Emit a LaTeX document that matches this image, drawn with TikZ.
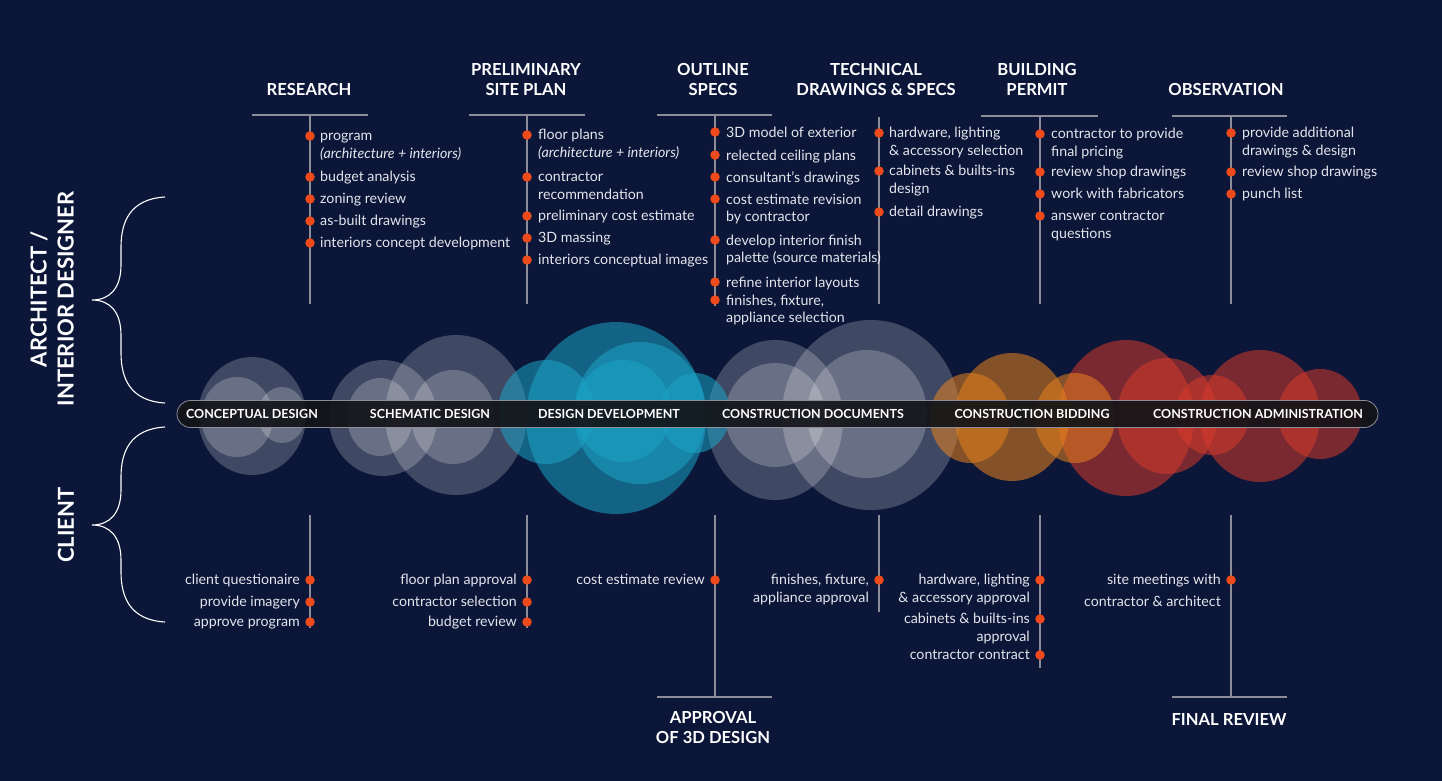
\documentclass[tikz,border=0pt]{standalone}
\usepackage{fontspec}
\setmainfont{Lato}
\usetikzlibrary{positioning}

\definecolor{navy}{HTML}{0B1638}
\definecolor{stemgrey}{HTML}{8C8D99}
\definecolor{dotorange}{HTML}{EE4A1B}
\definecolor{itemwhite}{HTML}{E4E5EC}
\definecolor{ddblue}{HTML}{1BA3C6}
\definecolor{cborange}{HTML}{E8821E}
\definecolor{cared}{HTML}{D63A2C}
\definecolor{barblack}{HTML}{131418}

\newcommand\tabL[1]{\begin{tabular}[t]{@{}l@{}}#1\end{tabular}}
\newcommand\tabR[1]{\begin{tabular}[t]{@{}r@{}}#1\end{tabular}}

\tikzset{
  stem/.style={stemgrey, line width=1.3pt},
  rule/.style={stemgrey, line width=2pt},
  brace/.style={white, line width=1.1pt},
  dot/.style={circle, fill=dotorange, inner sep=0pt, minimum size=9.5pt},
  item/.style={anchor=base west, inner sep=0pt, text=itemwhite, font=\fontsize{14.2}{17.5}\selectfont},
  itemr/.style={item, anchor=base east},
  head/.style={anchor=south, inner sep=0pt, align=center, text=white, font=\fontsize{16.6}{20.5}\selectfont\bfseries},
  side/.style={rotate=90, inner sep=0pt, align=center, text=white, font=\fontsize{22}{27}\selectfont\bfseries},
  phase/.style={text=white, inner sep=0pt, font=\fontsize{12.5}{14}\selectfont\bfseries},
  bar/.style={draw=stemgrey, line width=0.8pt, fill=barblack, fill opacity=0.92, rounded corners=13.5pt, minimum width=1201pt, minimum height=27pt},
  greyc/.style={fill=white, fill opacity=0.22},
  bluec/.style={fill=ddblue, fill opacity=0.55},
  orangec/.style={fill=cborange, fill opacity=0.55},
  redc/.style={fill=cared, fill opacity=0.55}
}

\begin{document}
\begin{tikzpicture}[x=1pt, y=-1pt]
\useasboundingbox (0,0) rectangle (1442,781);
\fill[navy] (0,0) rectangle (1442,781);

% phase bubbles
\foreach \cx/\cy/\rx/\ry in {252/416/54/59, 237/417/36/40, 282/415/24/28,
    383/418/54/58, 380/417/33/39, 456/415/71/80, 453/417/42/47,
    775/420/68/80, 775/415/50/52, 871/415/89/95, 867/414/60/64}
  \fill[greyc] (\cx,\cy) ellipse [x radius=\rx pt, y radius=\ry pt];
\foreach \cx/\cy/\rx/\ry in {546/412/48/52, 616/418/90/96, 640/413/66/71, 623/411/48/51, 695/413/35/40}
  \fill[bluec] (\cx,\cy) ellipse [x radius=\rx pt, y radius=\ry pt];
\foreach \cx/\cy/\rx/\ry in {1126/418/68/78, 1167/416/50/58, 1212/415/37/40, 1260/416/60/66, 1320/414/42/45}
  \fill[redc] (\cx,\cy) ellipse [x radius=\rx pt, y radius=\ry pt];
\foreach \cx/\cy/\rx/\ry in {970/418/40/45, 1012/417/57/64, 1075/418/40/45}
  \fill[orangec] (\cx,\cy) ellipse [x radius=\rx pt, y radius=\ry pt];

% timeline
\node[bar] (bar) at (777.5,414) {};
\node[phase] (p1) at (252,414) {CONCEPTUAL DESIGN};
\node[phase] (p2) at (430,414) {SCHEMATIC DESIGN};
\node[phase] (p3) at (609,414) {DESIGN DEVELOPMENT};
\node[phase] (p4) at (813,414) {CONSTRUCTION DOCUMENTS};
\node[phase] (p5) at (1032,414) {CONSTRUCTION BIDDING};
\node[phase] (p6) at (1258,414) {CONSTRUCTION ADMINISTRATION};

% side labels
\node[side] (arch) at (52,299) {ARCHITECT /\\INTERIOR DESIGNER};
\node[side] (client) at (66,525) {CLIENT};
\foreach \top/\mid/\bot in {197/300/403, 427/525/622}
  \draw[brace] (165,\top) .. controls (130,\top+2) and (121,\top+25) .. (121,\top+50)
    -- (121,\mid-35) .. controls (121,\mid-12) and (110,\mid) .. (92,\mid)
    .. controls (110,\mid) and (121,\mid+12) .. (121,\mid+35)
    -- (121,\bot-50) .. controls (121,\bot-25) and (130,\bot-2) .. (165,\bot);

% headings
\node[head] (h-res) at (309,96) {RESEARCH};
\node[head] (h-pre) at (526,96) {PRELIMINARY\\SITE PLAN};
\node[head] (h-out) at (713,96) {OUTLINE\\SPECS};
\node[head] (h-tec) at (876,96) {TECHNICAL\\DRAWINGS \& SPECS};
\node[head] (h-bld) at (1037,96) {BUILDING\\PERMIT};
\node[head] (h-obs) at (1226,96) {OBSERVATION};

\draw[rule] (252,115) -- (368,115);
\draw[rule] (469,115) -- (585,115);
\draw[rule] (657,115) -- (772,115);
\draw[rule] (981,116) -- (1098,116);
\draw[rule] (1172,116) -- (1287,116);

% architect stems
\coordinate (res-t) at (310,115); \coordinate (res-b) at (310,304);
\coordinate (pre-t) at (527,115); \coordinate (pre-b) at (527,304);
\coordinate (out-t) at (715,115); \coordinate (out-b) at (715,306);
\coordinate (tec-t) at (879,117); \coordinate (tec-b) at (879,304);
\coordinate (bld-t) at (1040,116); \coordinate (bld-b) at (1040,304);
\coordinate (obs-t) at (1231,116); \coordinate (obs-b) at (1231,304);
\foreach \s in {res, pre, out, tec, bld, obs}
  \draw[stem] (\s-t) -- (\s-b);

\foreach \y/\t [count=\i] in {136/{program\\\textit{(architecture + interiors)}}, 177/budget analysis,
    199/zoning review, 221/as-built drawings, 243/interiors concept development}{
  \node[dot] (res-\i) at (310,\y) {};
  \node[item] (res-\i-t) at (320,\y+4.5) {\tabL{\t}};
}
\foreach \y/\t [count=\i] in {135/{floor plans\\\textit{(architecture + interiors)}}, 177/{contractor\\recommendation},
    216/preliminary cost estimate, 238/3D massing, 260/interiors conceptual images}{
  \node[dot] (pre-\i) at (527,\y) {};
  \node[item] (pre-\i-t) at (538,\y+4.5) {\tabL{\t}};
}
\foreach \y/\t [count=\i] in {132/3D model of exterior, 155/relected ceiling plans, 177/consultant's drawings,
    199/{cost estimate revision\\by contractor}, 240/{develop interior finish\\palette (source materials)},
    282/refine interior layouts, 300/{finishes, fixture,\\appliance selection}}{
  \node[dot] (out-\i) at (715,\y) {};
  \node[item] (out-\i-t) at (726,\y+5) {\tabL{\t}};
}
\foreach \y/\t [count=\i] in {133/{hardware, lighting\\\& accessory selection}, 171/{cabinets \& builts-ins\\design},
    212/detail drawings}{
  \node[dot] (tec-\i) at (879,\y) {};
  \node[item] (tec-\i-t) at (889,\y+4.5) {\tabL{\t}};
}
\foreach \y/\t [count=\i] in {134/{contractor to provide\\final pricing}, 172/review shop drawings,
    194/work with fabricators, 216/{answer contractor\\questions}}{
  \node[dot] (bld-\i) at (1040,\y) {};
  \node[item] (bld-\i-t) at (1051,\y+4.5) {\tabL{\t}};
}
\foreach \y/\t [count=\i] in {133/{provide additional\\drawings \& design}, 172/review shop drawings, 194/punch list}{
  \node[dot] (obs-\i) at (1231,\y) {};
  \node[item] (obs-\i-t) at (1242,\y+4.5) {\tabL{\t}};
}

% client stems
\coordinate (resc-t) at (310,515); \coordinate (resc-b) at (310,628);
\coordinate (prec-t) at (527,515); \coordinate (prec-b) at (527,628);
\coordinate (outc-t) at (715,515); \coordinate (outc-b) at (715,697);
\coordinate (tecc-t) at (879,515); \coordinate (tecc-b) at (879,612);
\coordinate (bldc-t) at (1040,515); \coordinate (bldc-b) at (1040,668);
\coordinate (obsc-t) at (1231,515); \coordinate (obsc-b) at (1231,697);
\foreach \s in {resc, prec, outc, tecc, bldc, obsc}
  \draw[stem] (\s-t) -- (\s-b);

\foreach \y/\t [count=\i] in {580/client questionaire, 602/provide imagery, 622/approve program}{
  \node[dot] (resc-\i) at (310,\y) {};
  \node[itemr] (resc-\i-t) at (300,\y+4.5) {\tabR{\t}};
}
\foreach \y/\t [count=\i] in {580/floor plan approval, 602/contractor selection, 622/budget review}{
  \node[dot] (prec-\i) at (527,\y) {};
  \node[itemr] (prec-\i-t) at (517,\y+4.5) {\tabR{\t}};
}
\node[dot] (outc-1) at (715,580) {};
\node[itemr] (outc-1-t) at (705,584.5) {cost estimate review};
\node[dot] (tecc-1) at (879,580) {};
\node[itemr] (tecc-1-t) at (869,584.5) {\tabR{finishes, fixture,\\appliance approval}};
\foreach \y/\t [count=\i] in {580/{hardware, lighting\\\& accessory approval}, 619/{cabinets \& builts-ins\\approval},
    655/contractor contract}{
  \node[dot] (bldc-\i) at (1040,\y) {};
  \node[itemr] (bldc-\i-t) at (1030,\y+4.5) {\tabR{\t}};
}
\node[dot] (obsc-1) at (1231,580) {};
\node[itemr] (obsc-1-t) at (1221,584.5) {\tabR{site meetings with\\[4pt]contractor \& architect}};

% client milestones
\draw[rule] (657,697) -- (772,697);
\draw[rule] (1172,697) -- (1287,697);
\node[head, anchor=north] (m-3d) at (713,711) {APPROVAL\\OF 3D DESIGN};
\node[head, anchor=north] (m-final) at (1229,713) {FINAL REVIEW};
\end{tikzpicture}
\end{document}
